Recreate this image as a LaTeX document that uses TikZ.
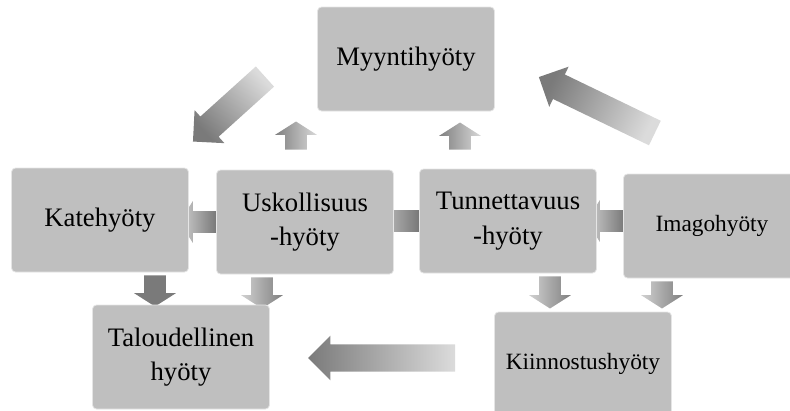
\documentclass[tikz,border=0pt]{standalone}
\usepackage{fontspec}
\setmainfont{Liberation Serif}
\usetikzlibrary{shapes.arrows,calc,backgrounds}

% block arrow node from one coordinate to another
\newcommand{\shadearrow}[4][]{%
  \path let \p1=($(#4)-(#3)$), \n1={atan2(\y1,\x1)}, \n2={veclen(\x1,\y1)} in
    node(#2)[#1, minimum height=\n2, rotate=\n1] at ($(#3)!0.5!(#4)$) {};}

\begin{document}
\begin{tikzpicture}[
  x=0.75pt, y=-0.75pt,
  box/.style={
    rectangle,
    rounded corners=3pt,
    fill=black!25,
    draw=black!10,
    line width=0.6pt,
    minimum width=132.75pt,
    minimum height=78pt,
    align=center,
    font=\fontsize{20}{26}\selectfont,
  },
  smallbox/.style={box, font=\fontsize{17.5}{22}\selectfont},
  arrowbase/.style={single arrow, draw=none, inner xsep=0pt, minimum width=0pt},
  bigarrow/.style={arrowbase, inner ysep=10pt, single arrow head extend=6.5pt,
    single arrow tip angle=90},
  smallarrow/.style={arrowbase, inner ysep=8pt, single arrow head extend=7.5pt,
    single arrow tip angle=115},
  ]
  \useasboundingbox (0,0) rectangle (790,411);
  \clip (0,0) rectangle (790,411);

  \node(myynti)[box] at (406,59) {Myyntihyöty};
  \node(kate)[box] at (100,220) {Katehyöty};
  \node(usko)[box] at (305,222) {Uskollisuus\\-hyöty};
  \node(tunne)[box] at (508,221) {Tunnettavuus\\-hyöty};
  \node(imago)[smallbox] at (712,226) {Imagohyöty};
  \node(talous)[box] at (181,357) {Taloudellinen\\hyöty};
  \node(kiinnostus)[smallbox] at (583,364) {Kiinnostushyöty};

  \begin{scope}[on background layer]
    \coordinate (myynti-out) at (270,72);   \coordinate (kate-in) at (198,137);
    \coordinate (imago-out) at (661,136);   \coordinate (myynti-in) at (545,80);
    \coordinate (kiinn-out) at (462,358);   \coordinate (talous-in) at (315,358);
    \coordinate (usko-up) at (296,153);     \coordinate (myynti-u) at (296,125);
    \coordinate (tunne-up) at (460,153);    \coordinate (myynti-t) at (460,126);
    \coordinate (kate-down) at (155,272);   \coordinate (talous-k) at (155,303);
    \coordinate (usko-down) at (262,274);   \coordinate (talous-u) at (262,305);
    \coordinate (tunne-down) at (550,273);  \coordinate (kiinn-t) at (550,305);
    \coordinate (imago-down) at (662,278);  \coordinate (kiinn-i) at (662,305);
    \coordinate (usko-left) at (222,222);   \coordinate (kate-r) at (183,222);
    \coordinate (tunne-left) at (425,221);  \coordinate (usko-r) at (375,221);
    \coordinate (imago-left) at (630,221);  \coordinate (tunne-r) at (590,221);

    \shadearrow[bigarrow, top color=black!52, bottom color=black!14, shading angle=132]{a-myynti-kate}{myynti-out}{kate-in}
    \shadearrow[bigarrow, top color=black!52, bottom color=black!14, shading angle=64]{a-imago-myynti}{imago-out}{myynti-in}
    \shadearrow[bigarrow, left color=black!52, right color=black!14]{a-kiinn-talous}{kiinn-out}{talous-in}
    \shadearrow[smallarrow, left color=black!50, right color=black!15]{a-usko-myynti}{usko-up}{myynti-u}
    \shadearrow[smallarrow, left color=black!50, right color=black!15]{a-tunne-myynti}{tunne-up}{myynti-t}
    \shadearrow[smallarrow, fill=black!52]{a-kate-talous}{kate-down}{talous-k}
    \shadearrow[smallarrow, left color=black!18, right color=black!50]{a-usko-talous}{usko-down}{talous-u}
    \shadearrow[smallarrow, left color=black!18, right color=black!50]{a-tunne-kiinn}{tunne-down}{kiinn-t}
    \shadearrow[smallarrow, left color=black!18, right color=black!50]{a-imago-kiinn}{imago-down}{kiinn-i}
    \shadearrow[smallarrow, left color=black!18, right color=black!55]{a-usko-kate}{usko-left}{kate-r}
    \shadearrow[smallarrow, left color=black!18, right color=black!55]{a-tunne-usko}{tunne-left}{usko-r}
    \shadearrow[smallarrow, left color=black!18, right color=black!55]{a-imago-tunne}{imago-left}{tunne-r}
  \end{scope}
\end{tikzpicture}
\end{document}
